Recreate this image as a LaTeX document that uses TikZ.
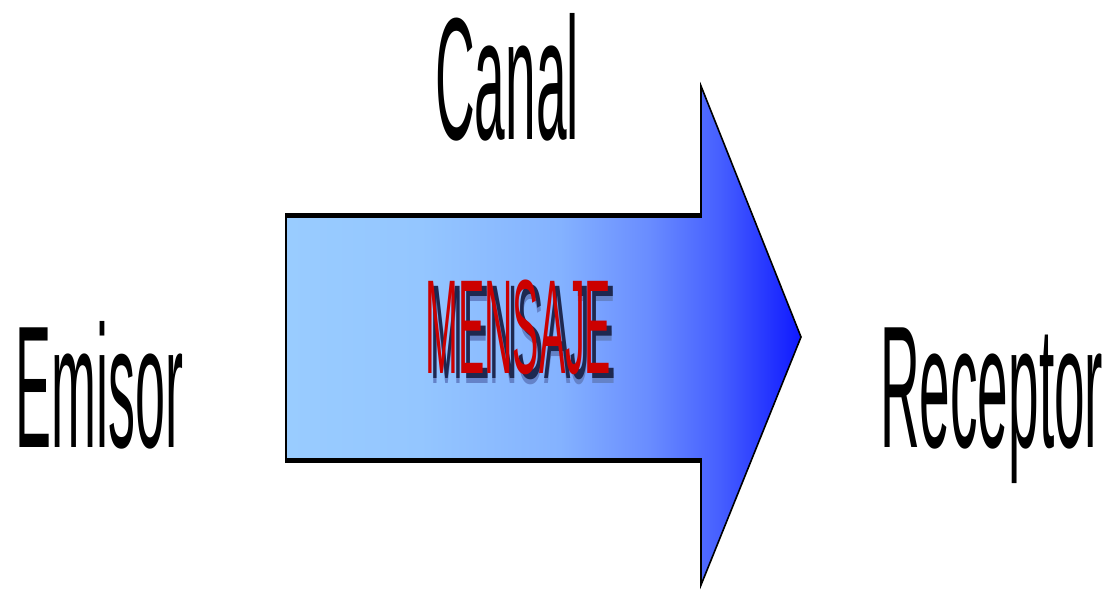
\documentclass[tikz,border=0pt]{standalone}
\usepackage{fontspec}
\setmainfont{Liberation Sans}
\definecolor{a1}{RGB}{153,204,255}
\definecolor{a2}{RGB}{148,198,255}
\definecolor{a3}{RGB}{132,178,255}
\definecolor{a4}{RGB}{105,140,255}
\definecolor{a5}{RGB}{70,95,255}
\definecolor{a6}{RGB}{15,25,255}
\definecolor{msgred}{RGB}{204,0,0}
\definecolor{msgshadow}{RGB}{30,40,80}
\definecolor{msgrefl}{RGB}{100,130,200}
\pgfdeclarehorizontalshading{arrowshade}{100bp}{color(0bp)=(a1); color(25bp)=(a1); color(38bp)=(a2); color(51.6bp)=(a3); color(60.3bp)=(a4); color(67.1bp)=(a5); color(75bp)=(a6); color(100bp)=(a6)}
\tikzset{
  lbl/.style={inner sep=0pt, anchor=base west, font=\fontsize{174}{174}\selectfont},
  msg/.style={inner sep=0pt, anchor=base west, font=\fontsize{134}{134}\selectfont},
  thinedge/.style={draw=black, line width=1.6pt, line join=miter},
  thickedge/.style={draw=black, line width=5pt}
}
\newcommand{\msgtext}{MENSAJE}
\begin{document}
\begin{tikzpicture}[x=1pt,y=-1pt]
\useasboundingbox (0,0) rectangle (1110,590);
% arrow corners
\coordinate (tl) at (286,215);
\coordinate (bl) at (286,460.5);
\coordinate (ht) at (701,215);
\coordinate (hb) at (701,460.5);
\coordinate (htop) at (701,86);
\coordinate (hbot) at (701,585);
\coordinate (tip) at (801,337);
\path[shading=arrowshade] (tl) -- (ht) -- (htop) -- (tip) -- (hbot) -- (hb) -- (bl) -- cycle;
\draw[thinedge] (tl) -- (ht) -- (htop) -- (tip) -- (hbot) -- (hb) -- (bl) -- cycle;
\draw[thickedge] ([xshift=-0.8pt]tl) -- ([xshift=0.8pt]ht);
\draw[thickedge] ([xshift=-0.8pt]bl) -- ([xshift=0.8pt]hb);
% labels
\node[lbl] (canal) at (435,139) {\scalebox{0.316}[1]{Canal}};
\node[lbl] (emisor) at (15,447) {\scalebox{0.31}[1]{Emisor}};
\node[lbl] (receptor) at (880,447) {\scalebox{0.316}[1]{Receptor}};
% message with shadow and reflection
\node[msg] (msg) at (425,373) {\scalebox{0.294}[1]{%
  \rlap{\hspace{17pt}\raisebox{-10pt}{\color{msgrefl}\msgtext}}%
  \rlap{\hspace{17pt}\raisebox{-5pt}{\color{msgshadow}\msgtext}}%
  {\color{msgred}\msgtext}}};
\end{tikzpicture}
\end{document}
